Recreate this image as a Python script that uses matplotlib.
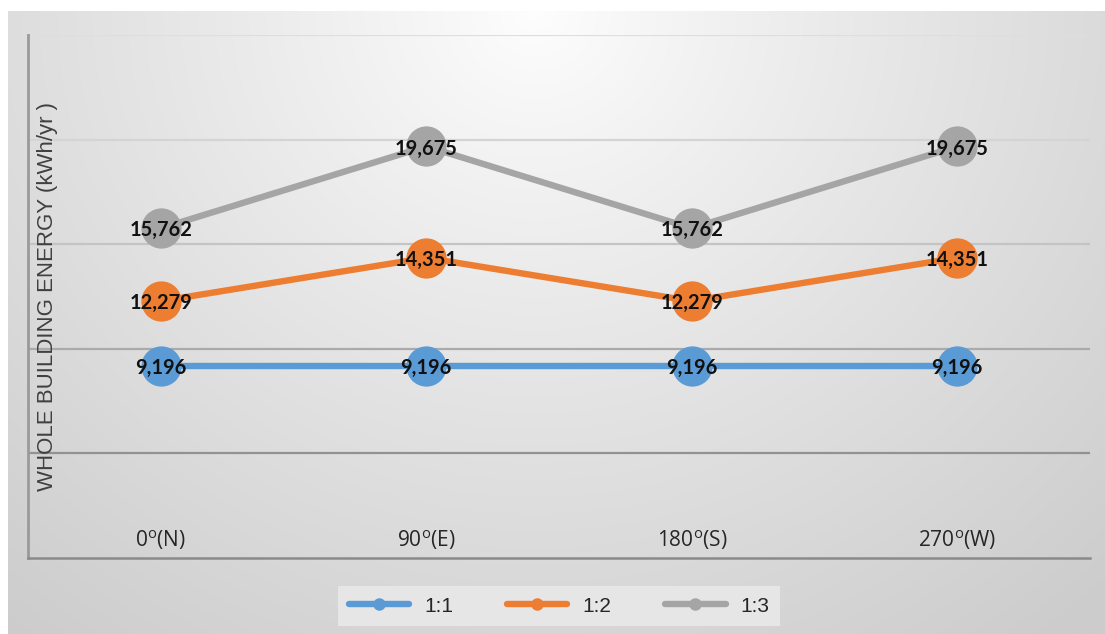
import numpy as np
import matplotlib
matplotlib.use("Agg")
import matplotlib.pyplot as plt
from matplotlib.lines import Line2D

# Orientation categories and whole-building energy per aspect ratio
categories = ["0$^{\\mathregular{o}}$(N)", "90$^{\\mathregular{o}}$(E)",
              "180$^{\\mathregular{o}}$(S)", "270$^{\\mathregular{o}}$(W)"]
series_names = ["1:1", "1:2", "1:3"]
ratio_1_1 = [9196, 9196, 9196, 9196]
ratio_1_2 = [12279, 14351, 12279, 14351]
ratio_1_3 = [15762, 19675, 15762, 19675]
y_ticks = [0, 5000, 10000, 15000, 20000, 25000]

colors = ["#5b9bd5", "#ed7d31", "#a5a5a5"]

W, H = 1105, 634
fig = plt.figure(figsize=(W / 100, H / 100), dpi=100)
fig.patch.set_facecolor("white")

# Radial grey gradient panel behind the chart
bg = fig.add_axes([8 / W, 0, 1 - 8 / W, 1 - 11 / H])
bg.set_axis_off()
gx, gy = np.meshgrid(np.linspace(0, 1, 400), np.linspace(0, 1, 240))
d = np.sqrt(((gx - 0.48) / 0.75) ** 2 + ((gy - 0.0) / 1.25) ** 2)
shade = 0.995 - 0.19 * np.clip(d, 0, 1.1) ** 0.9
shade = np.clip(shade, 0.80, 1.0)
bg.imshow(np.dstack([shade] * 3), aspect="auto", extent=(0, 1, 1, 0),
          interpolation="bilinear")
bg.set_xlim(0, 1)
bg.set_ylim(1, 0)

ax = fig.add_axes([28 / W, (H - 558) / H, (1090 - 28) / W, (558 - 35) / H])
ax.set_facecolor("none")
x = np.arange(len(categories))
ax.set_xlim(-0.5, len(categories) - 0.5)
ax.set_ylim(y_ticks[0], y_ticks[-1])

grid_colors = ["#dedede", "#d4d4d4", "#c4c4c4", "#aaaaaa", "#929292"]
for yv, gc in zip(y_ticks[1:][::-1], grid_colors):
    ax.axhline(yv, color=gc, lw=1.6, zorder=1)

for s in ["top", "right"]:
    ax.spines[s].set_visible(False)
ax.spines["left"].set_color("#9a9a9a")
ax.spines["left"].set_linewidth(2)
ax.spines["bottom"].set_color("#8a8a8a")
ax.spines["bottom"].set_linewidth(1.8)
ax.set_xticks([])
ax.set_yticks([])

for i, cat in enumerate(categories):
    ax.text(i, 0.034, cat, transform=ax.get_xaxis_transform(),
            ha="center", va="center", fontsize=15, color="#262626",
            family="Open Sans")

ax.text(0.018, 0.5, "WHOLE BUILDING ENERGY (kWh/yr )", transform=ax.transAxes,
        rotation=90, ha="center", va="center", fontsize=16,
        color="#404040", family="Liberation Sans")

all_series = [ratio_1_1, ratio_1_2, ratio_1_3]
for vals, c in zip(all_series, colors):
    ax.plot(x, vals, color=c, lw=4.6, marker="o", markersize=29,
            markeredgewidth=0, zorder=3, solid_capstyle="butt")
    for xi, v in zip(x, vals):
        ax.annotate(f"{v:,}", (xi, v), xytext=(0, -1.5),
                    textcoords="offset points", ha="center", va="center",
                    fontsize=14.5, fontweight="bold", color="#111111",
                    family="Lato", zorder=5)

handles = [Line2D([0], [0], color=c, lw=4.6, marker="o", markersize=9,
                  markeredgewidth=0, solid_capstyle="round")
           for c in colors]
leg = fig.legend(handles, series_names, loc="center",
                 bbox_to_anchor=(559 / W, 1 - 606 / H), ncol=3,
                 frameon=True, handlelength=2.9,
                 columnspacing=2.6, handletextpad=0.7,
                 borderpad=0.5, prop={"family": "Liberation Sans", "size": 15})
leg.get_frame().set_facecolor("#e6e6e6")
leg.get_frame().set_edgecolor("none")
leg.get_frame().set_alpha(1)
leg.get_frame().set_boxstyle("square", pad=0)
for t in leg.get_texts():
    t.set_color("#262626")

fig.savefig("out.png", dpi=100, facecolor=fig.get_facecolor())
